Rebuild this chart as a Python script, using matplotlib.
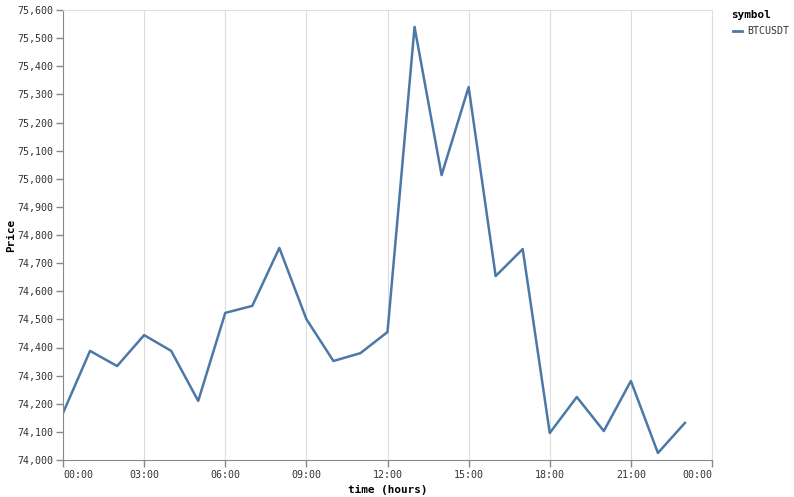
import matplotlib
matplotlib.use("Agg")
import matplotlib.pyplot as plt
from matplotlib.lines import Line2D

# hourly BTCUSDT price
hours = list(range(24))
price = [74167, 74388, 74334, 74444, 74388, 74210, 74523, 74548, 74754, 74501,
         74352, 74380, 74455, 75540, 75013, 75326, 74654, 74750, 74096, 74224,
         74103, 74281, 74025, 74132]
x_ticks = [0, 3, 6, 9, 12, 15, 18, 21, 24]
x_labels = ["00:00", "03:00", "06:00", "09:00", "12:00", "15:00", "18:00", "21:00", "00:00"]
y_ticks = list(range(74000, 75601, 100))

FONT = "DejaVu Sans Mono"
LBL = 7.2
BLUE = "#4c78a8"

fig = plt.figure(figsize=(7.94, 4.97), dpi=100)
ax = fig.add_axes([63 / 794, 1 - 460 / 497, (712 - 63) / 794, 450 / 497])

ax.plot(hours, price, color=BLUE, linewidth=1.8)
ax.set_xlim(0, 24)
ax.set_ylim(74000, 75600)

ax.set_xticks(x_ticks)
ax.set_xticklabels(x_labels)
ax.set_yticks(y_ticks)
ax.set_yticklabels([f"{v:,}" for v in y_ticks])

for lab in ax.get_xticklabels() + ax.get_yticklabels():
    lab.set_fontfamily(FONT)
    lab.set_fontsize(LBL)
    lab.set_color("#333333")
xl = ax.get_xticklabels()
xl[0].set_horizontalalignment("left")
xl[-1].set_horizontalalignment("right")

ax.tick_params(axis="both", length=5, width=1, color="#888888", pad=2)
ax.grid(axis="x", color="#dddddd", linewidth=0.8)
ax.set_axisbelow(True)

for s in ("top", "right"):
    ax.spines[s].set_color("#dddddd")
for s in ("left", "bottom"):
    ax.spines[s].set_color("#888888")

ax.set_xlabel("time (hours)", fontfamily=FONT, fontsize=7.9, fontweight="bold", labelpad=4)
ax.set_ylabel("Price", fontfamily=FONT, fontsize=7.9, fontweight="bold")
ax.yaxis.set_label_coords(-47 / 649, 0.5)

# legend
fig.text(731 / 794, 1 - 15 / 497, "symbol", fontfamily=FONT, fontsize=7.9,
         fontweight="bold", va="center", ha="left")
fig.add_artist(Line2D([733 / 794, 742 / 794], [1 - 31 / 497, 1 - 31 / 497],
                      color=BLUE, linewidth=2, transform=fig.transFigure))
fig.text(747 / 794, 1 - 31 / 497, "BTCUSDT", fontfamily=FONT, fontsize=LBL,
         va="center", ha="left", color="#333333")

fig.savefig("out.png", dpi=100)
